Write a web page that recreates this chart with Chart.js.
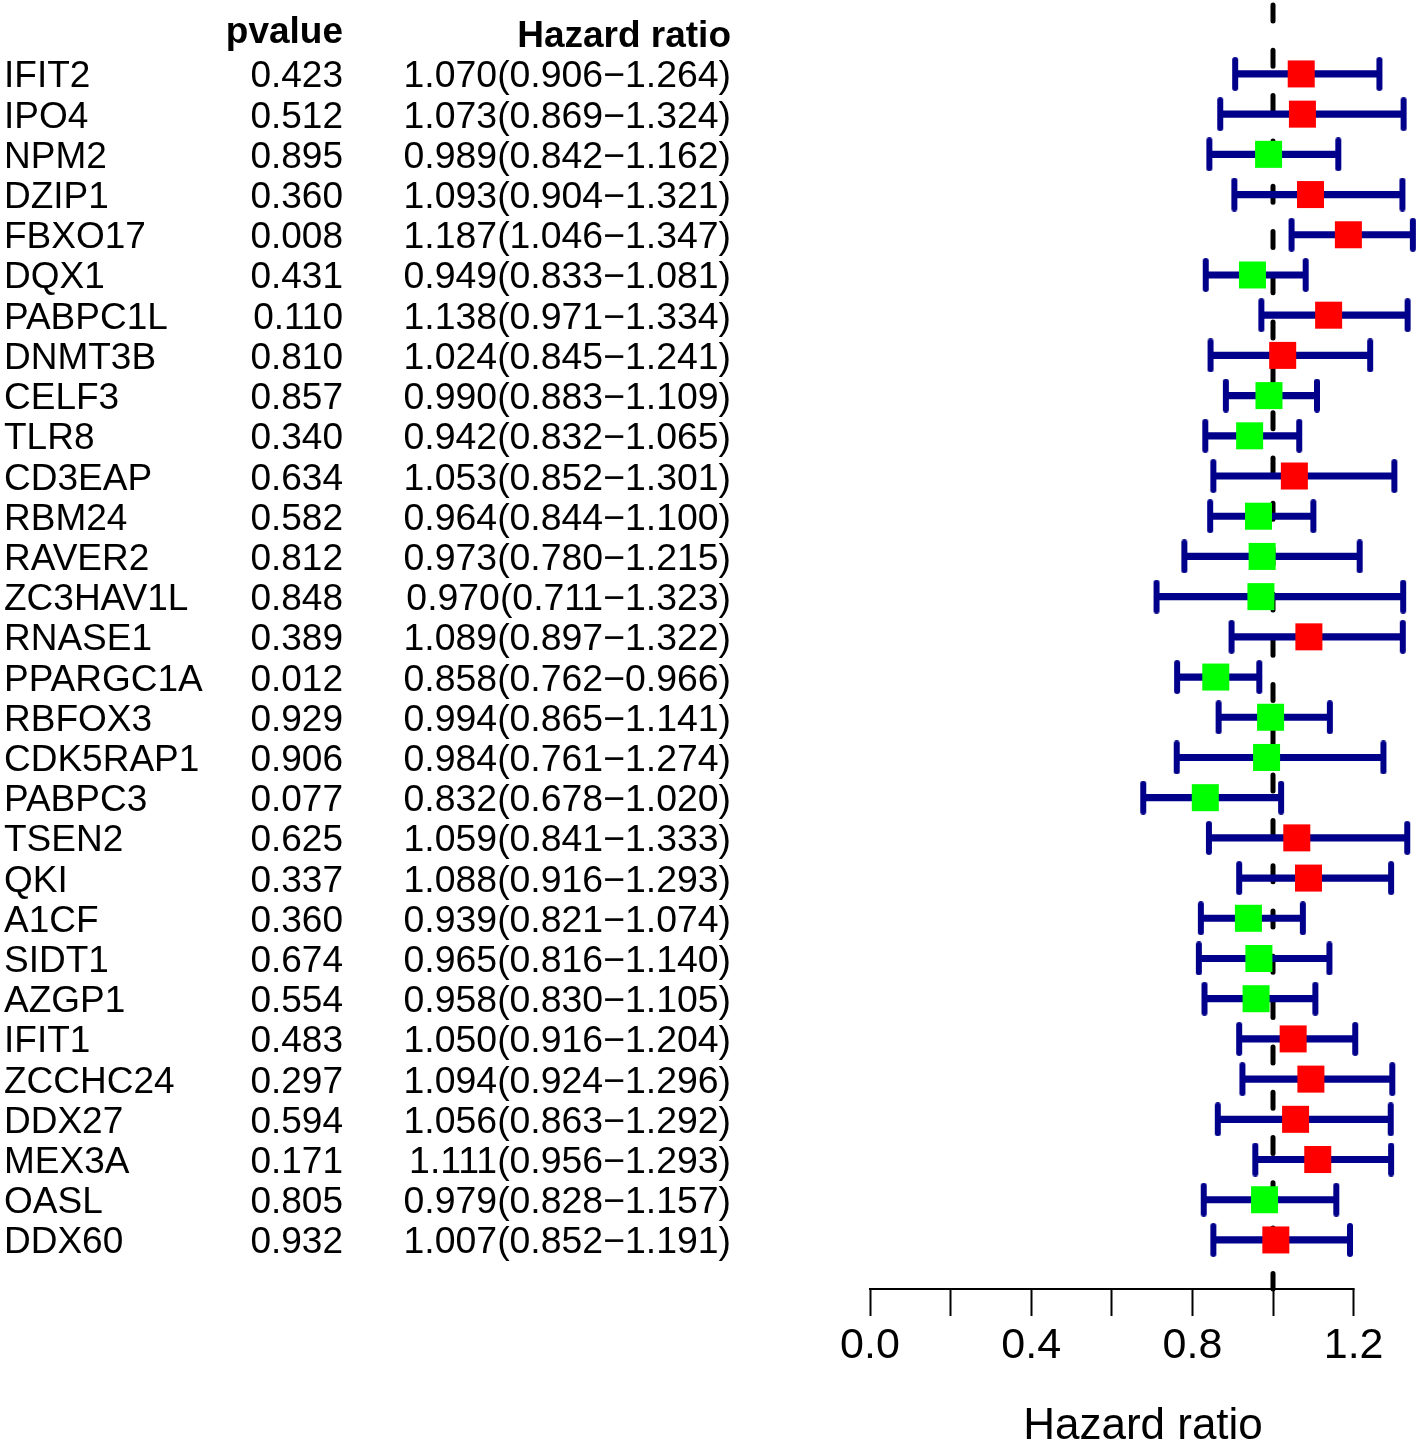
<!DOCTYPE html>
<html>
<head>
<meta charset="utf-8">
<script src="https://cdn.jsdelivr.net/npm/chart.js@4.4.1/dist/chart.umd.min.js"></script>
<style>
  html, body { margin: 0; padding: 0; background: #ffffff; }
  #wrap { position: relative; width: 1416px; height: 1446px; }
  canvas { display: block; }
</style>
</head>
<body>
<div id="wrap"><canvas id="c" width="1416" height="1446"></canvas></div>
<script>
// ---------- data ----------
const genes = ['IFIT2','IPO4','NPM2','DZIP1','FBXO17','DQX1','PABPC1L','DNMT3B','CELF3','TLR8',
  'CD3EAP','RBM24','RAVER2','ZC3HAV1L','RNASE1','PPARGC1A','RBFOX3','CDK5RAP1','PABPC3','TSEN2',
  'QKI','A1CF','SIDT1','AZGP1','IFIT1','ZCCHC24','DDX27','MEX3A','OASL','DDX60'];
const pvalues = [0.423,0.512,0.895,0.360,0.008,0.431,0.110,0.810,0.857,0.340,
  0.634,0.582,0.812,0.848,0.389,0.012,0.929,0.906,0.077,0.625,
  0.337,0.360,0.674,0.554,0.483,0.297,0.594,0.171,0.805,0.932];
const hr = [1.070,1.073,0.989,1.093,1.187,0.949,1.138,1.024,0.990,0.942,
  1.053,0.964,0.973,0.970,1.089,0.858,0.994,0.984,0.832,1.059,
  1.088,0.939,0.965,0.958,1.050,1.094,1.056,1.111,0.979,1.007];
const hrLow = [0.906,0.869,0.842,0.904,1.046,0.833,0.971,0.845,0.883,0.832,
  0.852,0.844,0.780,0.711,0.897,0.762,0.865,0.761,0.678,0.841,
  0.916,0.821,0.816,0.830,0.916,0.924,0.863,0.956,0.828,0.852];
const hrHigh = [1.264,1.324,1.162,1.321,1.347,1.081,1.334,1.241,1.109,1.065,
  1.301,1.100,1.215,1.323,1.322,0.966,1.141,1.274,1.020,1.333,
  1.293,1.074,1.140,1.105,1.204,1.296,1.292,1.293,1.157,1.191];
const tickValues = [0, 0.2, 0.4, 0.6, 0.8, 1.0, 1.2];
const tickLabels = ['0.0', '', '0.4', '', '0.8', '', '1.2'];
const refValue = 1;

// ---------- styles ----------
const FONT = "'Liberation Sans', Arial, Helvetica, sans-serif";
const NAVY = '#00008B';

// rounded vertical cap used as point style for CI ends
const cap = document.createElement('canvas');
cap.width = 8; cap.height = 34;
(function () {
  const g = cap.getContext('2d');
  g.strokeStyle = NAVY; g.lineWidth = 6; g.lineCap = 'round';
  g.beginPath(); g.moveTo(4, 3); g.lineTo(4, 31); g.stroke();
})();

const boxData = hr.map((v, i) => ({ x: v, y: i }));
const boxColors = hr.map(v => v > 1 ? '#FF0000' : '#00FF00');
const ciData = hr.map((v, i) => ({ y: i, x: [hrLow[i], hrHigh[i]] }));
const capData = [];
hr.forEach((v, i) => { capData.push({ x: hrLow[i], y: i }); capData.push({ x: hrHigh[i], y: i }); });

const decoPlugin = {
  id: 'deco',
  beforeDatasetsDraw(chart) {
    const { ctx, chartArea, scales } = chart;
    const x = scales.x.getPixelForValue(refValue);
    ctx.save();
    ctx.strokeStyle = '#000';
    ctx.lineWidth = 5;
    ctx.lineCap = 'round';
    ctx.setLineDash([16, 29.3]);
    ctx.lineDashOffset = -5;
    ctx.beginPath();
    ctx.moveTo(x, chartArea.top);
    ctx.lineTo(x, chartArea.bottom);
    ctx.stroke();
    ctx.restore();
  },
  afterDraw(chart) {
    const { ctx, chartArea, scales } = chart;
    const xs = scales.x, ys = scales.y;
    // axis line from first to last tick
    ctx.save();
    ctx.strokeStyle = '#000';
    ctx.lineWidth = 2;
    ctx.beginPath();
    ctx.moveTo(xs.getPixelForValue(tickValues[0]) - 1, chartArea.bottom);
    ctx.lineTo(xs.getPixelForValue(tickValues[tickValues.length - 1]) + 1, chartArea.bottom);
    ctx.stroke();

    // table text
    ctx.fillStyle = '#000';
    ctx.textBaseline = 'alphabetic';
    ctx.font = 'bold 37px ' + FONT;
    ctx.textAlign = 'right';
    const hy = ys.getPixelForValue(-1);
    ctx.fillText('pvalue', 343, hy + 9);
    ctx.fillText('Hazard ratio', 731, hy + 13);

    genes.forEach((g, i) => {
      const y = ys.getPixelForValue(i) + 13.5;
      ctx.font = '37px ' + FONT;
      ctx.textAlign = 'left';
      ctx.fillText(g, 4, y);
      ctx.textAlign = 'right';
      ctx.fillText(pvalues[i].toFixed(3), 343, y);
      ctx.font = '37.4px ' + FONT;
      ctx.fillText(hr[i].toFixed(3) + '(' + hrLow[i].toFixed(3) + '\u2212' + hrHigh[i].toFixed(3) + ')', 731, y);
    });
    ctx.restore();
  }
};

new Chart(document.getElementById('c'), {
  type: 'bar',
  data: {
    datasets: [
      {
        type: 'scatter', label: 'HR', data: boxData, order: 0,
        pointStyle: 'rect', pointRadius: 19.1, pointHoverRadius: 19.1,
        pointBackgroundColor: boxColors, pointBorderWidth: 0, borderWidth: 0, clip: false
      },
      {
        type: 'scatter', label: 'caps', data: capData, order: 1,
        pointStyle: cap, pointRadius: 17, clip: false
      },
      {
        type: 'bar', label: 'CI', data: ciData, order: 2,
        backgroundColor: NAVY, borderWidth: 0, barThickness: 6.5, clip: false
      }
    ]
  },
  options: {
    responsive: false,
    animation: false,
    devicePixelRatio: 1,
    indexAxis: 'y',
    layout: { autoPadding: false, padding: { left: 870, right: 0, top: 0, bottom: 0 } },
    plugins: { legend: { display: false }, tooltip: { enabled: false } },
    scales: {
      y: {
        type: 'linear', display: false, reverse: true, offset: false,
        min: -1.839, max: 30.22,
        grid: { offset: false }
      },
      x: {
        type: 'linear', min: 0, max: 1.3548, offset: false,
        border: { display: false },
        grid: { drawOnChartArea: false, drawTicks: true, tickLength: 27, tickWidth: 2, tickColor: '#000' },
        ticks: {
          stepSize: 0.2, includeBounds: false, autoSkip: false, maxRotation: 0,
          padding: 4, color: '#000', font: { family: FONT, size: 43 },
          callback: (v, i) => tickLabels[i]
        },
        afterFit: (scale) => { scale.paddingLeft = 0; scale.paddingRight = 0; },
        title: {
          display: true, text: 'Hazard ratio', color: '#000',
          font: { family: FONT, size: 44, lineHeight: 0.85 },
          padding: { top: 33, bottom: 0 }
        }
      }
    }
  },
  plugins: [decoPlugin]
});
</script>
</body>
</html>
